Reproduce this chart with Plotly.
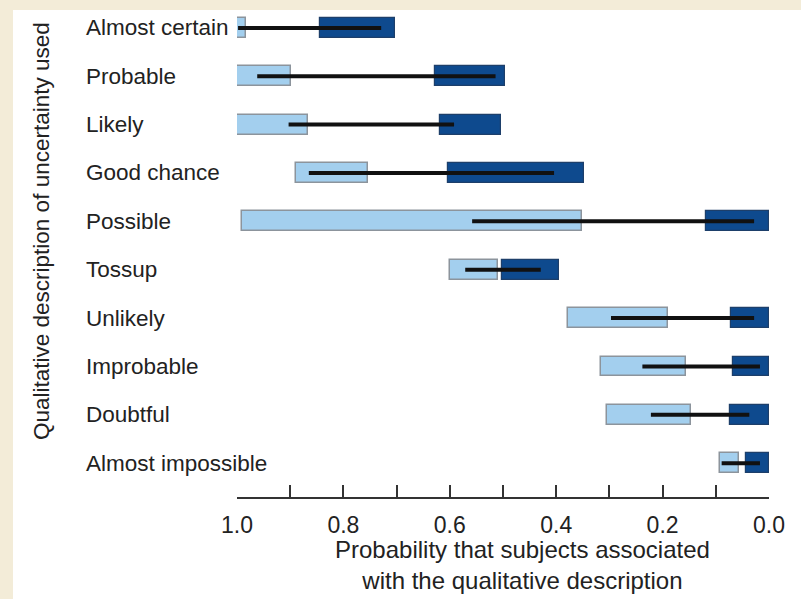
import plotly.graph_objects as go

categories = ["Almost certain", "Probable", "Likely", "Good chance", "Possible",
              "Tossup", "Unlikely", "Improbable", "Doubtful", "Almost impossible"]
light_hi = [1.000, 1.000, 1.000, 0.890, 0.990, 0.600, 0.378, 0.315, 0.305, 0.093]
light_lo = [0.983, 0.898, 0.867, 0.753, 0.351, 0.510, 0.189, 0.156, 0.147, 0.057]
dark_hi = [0.844, 0.628, 0.618, 0.604, 0.118, 0.502, 0.072, 0.067, 0.074, 0.043]
dark_lo = [0.703, 0.496, 0.503, 0.347, 0.000, 0.394, 0.000, 0.000, 0.000, 0.000]
line_hi = [0.998, 0.962, 0.903, 0.865, 0.558, 0.571, 0.297, 0.238, 0.222, 0.089]
line_lo = [0.729, 0.514, 0.592, 0.404, 0.028, 0.429, 0.028, 0.017, 0.037, 0.017]
x_ticks = [1.0, 0.8, 0.6, 0.4, 0.2, 0.0]
x_title_lines = ["Probability that subjects associated", "with the qualitative description"]
y_title = "Qualitative description of uncertainty used"

n = len(categories)
ypos = [n - 1 - i for i in range(n)]

FONT = "Liberation Sans, Arial, sans-serif"
TXT = "#222222"

fig = go.Figure()
fig.add_trace(go.Bar(
    y=ypos, x=[h - l for h, l in zip(light_hi, light_lo)], base=light_lo,
    orientation="h", width=0.41,
    marker=dict(color="#a3cfee", line=dict(color="#8c949c", width=1.5)),
    showlegend=False, hoverinfo="skip"))
fig.add_trace(go.Bar(
    y=ypos, x=[h - l for h, l in zip(dark_hi, dark_lo)], base=dark_lo,
    orientation="h", width=0.41,
    marker=dict(color="#0e4a8e", line=dict(color="#1d3f6a", width=1.2)),
    showlegend=False, hoverinfo="skip"))

lx, ly = [], []
for y, a, b in zip(ypos, line_hi, line_lo):
    lx += [a, b, None]
    ly += [y, y, None]
fig.add_trace(go.Scatter(x=lx, y=ly, mode="lines",
                         line=dict(color="#111111", width=4),
                         showlegend=False, hoverinfo="skip"))

L, R, T, B = 237, 32, 10, 102
W, H = 801, 599
pw, ph = W - L - R, H - T - B

def px_x(px):
    return (px - L) / pw

def px_y(py):
    return (H - B - py) / ph

annotations = []
for y, c in zip(ypos, categories):
    annotations.append(dict(x=px_x(84), xref="paper", y=y, yref="y", text=c,
                            showarrow=False, xanchor="left", yanchor="middle",
                            font=dict(family=FONT, size=22.5, color=TXT)))
annotations.append(dict(x=px_x(41), xref="paper", y=px_y(231), yref="paper",
                        text=y_title, textangle=-90, showarrow=False,
                        xanchor="center", yanchor="middle",
                        font=dict(family=FONT, size=22.5, color=TXT)))
annotations.append(dict(x=px_x(522), xref="paper", y=px_y(565), yref="paper",
                        text="<br>".join(x_title_lines), showarrow=False,
                        xanchor="center", yanchor="middle",
                        font=dict(family=FONT, size=24, color=TXT)))

beige = "#f3ecd8"
shapes = [
    dict(type="rect", xref="paper", yref="paper", x0=px_x(0), x1=px_x(13),
         y0=px_y(H), y1=px_y(0), fillcolor=beige, line=dict(width=0), layer="above"),
    dict(type="rect", xref="paper", yref="paper", x0=px_x(0), x1=px_x(W),
         y0=px_y(10), y1=px_y(0), fillcolor=beige, line=dict(width=0), layer="above"),
]

fig.update_layout(
    width=W, height=H, margin=dict(l=L, r=R, t=T, b=B),
    paper_bgcolor="white", plot_bgcolor="white",
    barmode="overlay", bargap=0,
    font=dict(family=FONT, size=22, color=TXT),
    annotations=annotations, shapes=shapes,
    xaxis=dict(range=[1.0, 0.0], tickvals=x_ticks,
               ticktext=[f"{v:.1f}" for v in x_ticks],
               ticks="inside", ticklen=12, tickwidth=2, tickcolor="#333",
               showline=True, linecolor="#333", linewidth=2,
               showgrid=False, zeroline=False,
               minor=dict(dtick=0.1, tick0=0, ticks="inside", ticklen=12,
                          tickwidth=2, tickcolor="#333", showgrid=False),
               tickfont=dict(family=FONT, size=23, color=TXT),
               ticklabelstandoff=6, fixedrange=True),
    yaxis=dict(range=[-0.7, 9.37], showticklabels=False, ticks="",
               showline=False, showgrid=False, zeroline=False, fixedrange=True),
)

fig.write_html("out.html", config={"displayModeBar": False},
               post_script="document.body.style.margin='0';document.body.style.overflow='hidden';")
